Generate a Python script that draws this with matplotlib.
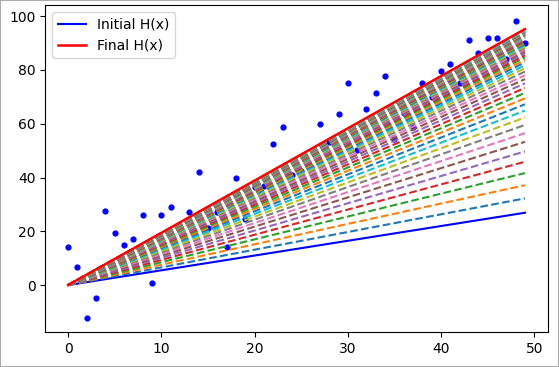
import numpy as np
import matplotlib
matplotlib.use("Agg")
import matplotlib.pyplot as plt
from matplotlib.patches import Rectangle

# data points (x = 0..49)
x_data = list(range(50))
y_data = [14.2, 6.8, -12.2, -4.8, 27.6, 19.2, 14.8, 17.0, 25.9, 0.9,
          25.9, 29.1, 21.0, 27.0, 42.0, 21.4, 27.3, 14.2, 39.8, 24.7,
          36.3, 37.0, 52.5, 58.7, 41.0, 42.5, 44.0, 59.9, 53.2, 63.8,
          75.0, 50.4, 65.4, 71.6, 77.8, 54.4, 64.0, 58.9, 75.2, 70.0,
          79.6, 82.3, 75.0, 91.1, 86.3, 91.7, 91.7, 84.0, 98.3, 90.0]

# slope of H(x) = w*x at each step
w_initial = 0.549
w_steps = [0.658, 0.758, 0.850, 0.936, 1.014, 1.087, 1.153, 1.215, 1.272, 1.324,
           1.372, 1.417, 1.458, 1.496, 1.531, 1.563, 1.592, 1.620, 1.645, 1.668,
           1.690, 1.709, 1.728, 1.744, 1.760, 1.774, 1.787, 1.800, 1.811, 1.821,
           1.831, 1.839, 1.847, 1.855, 1.862, 1.868, 1.874, 1.879, 1.884, 1.889,
           1.893, 1.897, 1.901, 1.904, 1.907, 1.910, 1.912, 1.915, 1.917, 1.919,
           1.921, 1.923, 1.924, 1.926, 1.927, 1.928, 1.929, 1.930, 1.931, 1.932]
w_final = 1.943

x = np.array(x_data)

fig = plt.figure(figsize=(5.59, 3.67), dpi=100)
ax = fig.add_axes([0.081, 0.095, 0.899, 0.891])

ax.scatter(x, y_data, s=12, color='b', zorder=1)
ax.plot(x, w_initial * x, color='b', label='Initial H(x)', zorder=2)
for i, w in enumerate(w_steps):
    ax.plot(x, w * x, '--', color='C%d' % (i % 10), zorder=2)
ax.plot(x, w_final * x, color='r', linewidth=1.8, label='Final H(x)', zorder=3)

ax.legend(loc='upper left')
ax.set_ylim(-17.5, 104.1)

fig.patches.append(Rectangle((0, 0), 1, 1, transform=fig.transFigure,
                             fill=False, edgecolor='#aaaaaa', linewidth=1.5))

fig.savefig('out.png', dpi=100)
